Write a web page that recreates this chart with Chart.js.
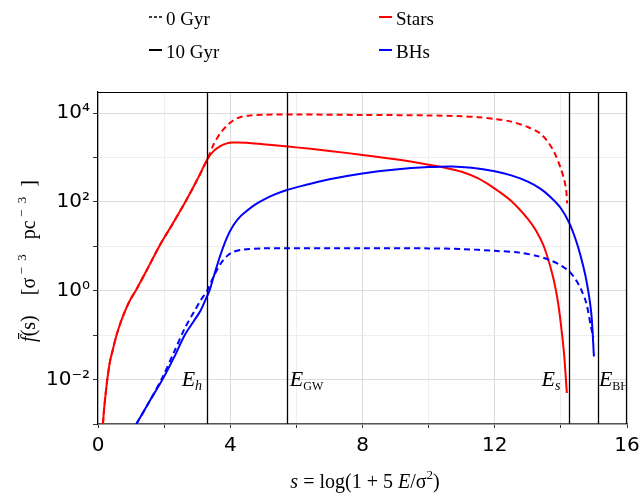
<!DOCTYPE html>
<html><head><meta charset="utf-8">
<script src="https://cdn.jsdelivr.net/npm/chart.js@4/dist/chart.umd.min.js"></script>
<style>html,body{margin:0;padding:0;background:#fff}</style>
</head><body>
<canvas id="c" width="643" height="496"></canvas>
<script>
// ---- data ----
const starsS10 = [0.15,0.18,0.22,0.28,0.36,0.45,0.56,0.70,0.85,1.00,1.14,1.50,1.85,2.25,2.64,3.00,3.30,3.50,3.70,3.90,4.05,4.5,5.0,5.5,6.0,7.0,8.0,9.0,10.0,10.5,11.0,11.5,12.0,12.5,13.0,13.25,13.5,13.75,13.9,14.0,14.1,14.18];
const starsF10 = [0.001,0.002,0.00398,0.01,0.0251,0.0479,0.1,0.209,0.398,0.676,1,3.16,10,31.6,100,316,891,1413,1820,2089,2188,2163,1995,1841,1698,1413,1148,912,692,589,479,339,200,105,41.7,22.4,9.33,2.24,0.631,0.178,0.0355,0.005];
const starsS0 = [0.15,0.18,0.22,0.28,0.36,0.45,0.56,0.70,0.85,1.00,1.14,1.50,1.85,2.25,2.64,3.00,3.30,3.50,3.70,3.90,4.10,4.30,4.60,5.0,6.0,8.0,10.0,11.0,11.5,12.0,12.5,13.0,13.36,13.6,13.8,14.0,14.1,14.16,14.19];
const starsF0 = [0.001,0.002,0.00398,0.01,0.0251,0.0479,0.1,0.209,0.398,0.676,1,3.16,10,31.6,100,316,891,1995,3548,5248,6918,8128,8913,9226,9333,9120,8913,8511,8128,7413,6457,4898,3548,2291,1318,562,316,186,93];
const bhS10 = [1.16,1.55,1.95,2.30,2.62,2.90,3.10,3.30,3.37,3.50,3.70,3.90,4.10,4.30,4.50,4.75,5.00,5.35,5.71,6.2,7.0,8.0,9.0,10.0,10.7,11.3,12.0,12.5,13.0,13.4,13.7,14.0,14.26,14.45,14.6,14.77,14.92,15.0];
const bhF10 = [0.001,0.00316,0.01,0.0316,0.1,0.209,0.355,0.759,1,2.09,6.31,15.8,30.2,46.8,63.1,87.1,112,148,186,234,324,437,537,610,631,589,490,398,288,195,126,72.4,33.1,14.1,6.03,1.74,0.309,0.0331];
const bhS0 = [1.16,1.55,1.95,2.30,2.62,2.90,3.10,3.30,3.50,3.70,3.90,4.10,4.40,5.0,8.0,10.0,11.0,12.0,12.75,13.3,13.7,14.0,14.26,14.45,14.6,14.77,14.92,14.99];
const bhF0 = [0.001,0.00316,0.0112,0.0417,0.141,0.331,0.603,1.0,2.14,3.98,6.03,7.59,8.51,9.02,9.12,9.02,8.71,7.94,7.24,6.03,4.79,3.72,2.69,1.78,1.12,0.525,0.141,0.0912];
const edgeNames = ['h','GW','s','BH'];
const edgeValues = [3.30, 5.71, 14.26, 15.12];
const xTickValues = [0,2,4,6,8,10,12,14,16];
const xTickLabels = ['0','','4','','8','','12','','16'];
const yTickExps = [-3,-2,-1,0,1,2,3,4];
const yTickLabels = ['','10\u207B\u00B2','','10\u2070','','10\u00B2','','10\u2074'];

const pts = (s,f) => s.map((x,i)=>({x:x,y:f[i]}));
const SERIF = '"Liberation Serif", "DejaVu Serif", serif';

function drawRich(ctx, parts, x, y, align){
  let w = 0;
  parts.forEach(p=>{ctx.font=p.font; p.w=ctx.measureText(p.text).width; w+=p.w;});
  let cx = align==='right' ? x-w : (align==='center' ? x-w/2 : x);
  parts.forEach(p=>{ctx.font=p.font; ctx.fillText(p.text, cx, y+(p.dy||0)); cx+=p.w;});
  return w;
}

const decor = {
  id:'decor',
  afterDatasetsDraw(chart){
    const ctx = chart.ctx, a = chart.chartArea, xs = chart.scales.x;
    ctx.save();
    ctx.lineWidth = 1.2;
    ctx.strokeStyle = '#000';
    ctx.beginPath();
    ctx.moveTo(a.left, a.top+0.5); ctx.lineTo(a.right, a.top+0.5);
    ctx.moveTo(a.right-0.5, a.top); ctx.lineTo(a.right-0.5, a.bottom);
    ctx.stroke();
    ctx.beginPath(); ctx.rect(a.left, a.top, a.right-a.left, a.bottom-a.top); ctx.clip();
    ctx.strokeStyle = '#000'; ctx.lineWidth = 1.3;
    edgeValues.forEach(v=>{
      const px = Math.round(xs.getPixelForValue(v))+0.5;
      ctx.beginPath(); ctx.moveTo(px, a.top); ctx.lineTo(px, a.bottom); ctx.stroke();
    });
    ctx.fillStyle = '#000'; ctx.textBaseline = 'alphabetic';
    const place = {h:['right',-5], GW:['left',3], s:['right',-9], BH:['left',1]};
    edgeNames.forEach((n,i)=>{
      const px = xs.getPixelForValue(edgeValues[i]);
      const pl = place[n];
      const subItalic = (n==='h'||n==='s');
      drawRich(ctx, [
        {text:'E', font:'italic 22px '+SERIF},
        {text:n, font:(subItalic?'italic 14px ':'12px ')+SERIF, dy:4}
      ], px+pl[1], 386, pl[0]);
    });
    ctx.restore();
  },
  afterDraw(chart){
    const ctx = chart.ctx;
    ctx.save();
    ctx.fillStyle = '#000'; ctx.textBaseline='alphabetic';
    drawRich(ctx, [
      {text:'s', font:'italic 20px '+SERIF},
      {text:' = log(1 + 5 ', font:'20px '+SERIF},
      {text:'E', font:'italic 20px '+SERIF},
      {text:'/\u03C3', font:'20px '+SERIF},
      {text:'2', font:'13px '+SERIF, dy:-9},
      {text:')', font:'20px '+SERIF}
    ], 365, 488, 'center');
    ctx.translate(35, 261); ctx.rotate(-Math.PI/2);
    drawRich(ctx, [
      {text:'f\u0304', font:'italic 20px '+SERIF},
      {text:'(s)    [\u03C3', font:'20px '+SERIF},
      {text:' \u2212  3', font:'13px '+SERIF, dy:-9},
      {text:'   pc', font:'20px '+SERIF},
      {text:' \u2212  3', font:'13px '+SERIF, dy:-9},
      {text:'  ]', font:'20px '+SERIF}
    ], 0, 0, 'center');
    ctx.restore();
    ctx.save();
    const items = [
      {x:149, y:17, color:'#000', dash:[3,2], w:1.5, label:'0 Gyr'},
      {x:149, y:50, color:'#000', dash:[], w:2, label:'10 Gyr'},
      {x:379, y:17, color:'#ff0000', dash:[], w:2, label:'Stars'},
      {x:379, y:50, color:'#0000ff', dash:[], w:2, label:'BHs'}
    ];
    items.forEach(it=>{
      ctx.strokeStyle = it.color; ctx.lineWidth = it.w; ctx.setLineDash(it.dash);
      ctx.beginPath(); ctx.moveTo(it.x, it.y); ctx.lineTo(it.x+13, it.y); ctx.stroke();
      ctx.setLineDash([]);
      ctx.fillStyle='#000'; ctx.font = '19px '+SERIF; ctx.textBaseline='alphabetic';
      ctx.fillText(it.label, it.x+17, it.y+8);
    });
    ctx.restore();
  }
};

new Chart(document.getElementById('c'), {
  type:'line',
  data:{ datasets:[
    {label:'BHs 0 Gyr', data:pts(bhS0,bhF0), borderColor:'#0000ff', borderDash:[6,4], borderWidth:2},
    {label:'BHs 10 Gyr', data:pts(bhS10,bhF10), borderColor:'#0000ff', borderWidth:2},
    {label:'Stars 0 Gyr', data:pts(starsS0,starsF0), borderColor:'#ff0000', borderDash:[6,4], borderWidth:2},
    {label:'Stars 10 Gyr', data:pts(starsS10,starsF10), borderColor:'#ff0000', borderWidth:2}
  ]},
  options:{
    responsive:false, animation:false, devicePixelRatio:1,
    elements:{ point:{radius:0}, line:{tension:0.3, fill:false, borderCapStyle:'butt'} },
    layout:{ padding:{ top:92, right:16, left:0, bottom:0 } },
    plugins:{ legend:{display:false}, tooltip:{enabled:false} },
    scales:{
      x:{ type:'linear', min:0, max:16,
        afterBuildTicks:(s)=>{ s.ticks = xTickValues.map(v=>({value:v})); },
        afterFit:(s)=>{ s.height = 72; s.paddingLeft = 0; s.paddingRight = 0; },
        ticks:{ callback:(v)=>xTickLabels[xTickValues.indexOf(v)] ?? '', font:{family:'"DejaVu Sans"', size:20}, color:'#000', padding:6, maxRotation:0, autoSkip:false },
        grid:{ color:(c)=> (c.tick && c.tick.value%4===0) ? '#dcdcdc' : '#eeeeee', tickColor:'#333', tickLength:4, lineWidth:1 },
        border:{ color:'#555', width:1.5 }
      },
      y:{ type:'logarithmic', min:1e-3, max:3e4,
        afterBuildTicks:(s)=>{ s.ticks = yTickExps.map(e=>({value:Math.pow(10,e)})); },
        afterFit:(s)=>{ s.width = 98; s.paddingTop = 0; s.paddingBottom = 0; },
        ticks:{ callback:(v)=>{ const e=Math.round(Math.log10(v)); const i=yTickExps.indexOf(e); return i>=0?yTickLabels[i]:''; }, font:{family:'"DejaVu Sans"', size:20}, color:'#000', padding:3, autoSkip:false },
        grid:{ color:(c)=> (c.tick && Math.round(Math.log10(c.tick.value))%2===0) ? '#dcdcdc' : '#eeeeee', tickColor:'#333', tickLength:5, lineWidth:1 },
        border:{ color:'#000', width:1.2 }
      }
    }
  },
  plugins:[decor]
});
</script>
</body></html>
